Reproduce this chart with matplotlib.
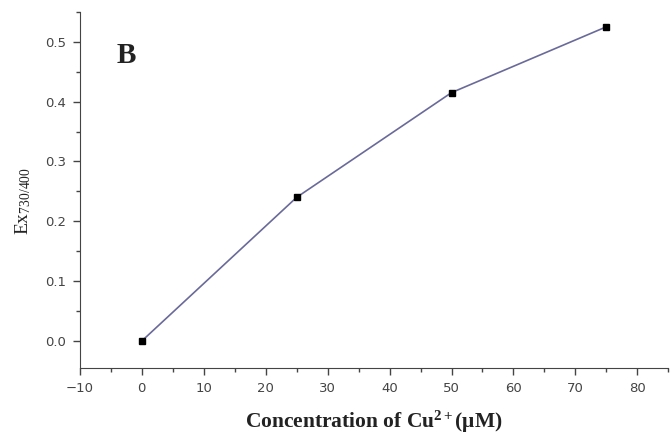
import matplotlib
matplotlib.use("Agg")
import matplotlib.pyplot as plt
from matplotlib.ticker import MultipleLocator

plt.rcParams["mathtext.fontset"] = "custom"
plt.rcParams["mathtext.rm"] = "Liberation Serif"
plt.rcParams["mathtext.it"] = "Liberation Serif:italic"
plt.rcParams["mathtext.bf"] = "Liberation Serif:bold"

conc = [0, 25, 50, 75]
ex = [0.0, 0.24, 0.415, 0.525]
xticks = [-10, 0, 10, 20, 30, 40, 50, 60, 70, 80]
yticks = [0.0, 0.1, 0.2, 0.3, 0.4, 0.5]

fig = plt.figure(figsize=(6.71, 4.38), dpi=100)
ax = fig.add_axes([0.119, 0.160, 0.877, 0.813])
ax.plot(conc, ex, color="#6a6a9a", lw=1.2, marker="s", ms=5,
        mfc="black", mec="black")
ax.set_xlim(-10, 85)
ax.set_ylim(-0.045, 0.55)
ax.set_xticks(xticks)
ax.set_yticks(yticks)
ax.set_yticklabels([f"{v:.1f}" for v in yticks])
ax.xaxis.set_minor_locator(MultipleLocator(5))
ax.yaxis.set_minor_locator(MultipleLocator(0.05))
for s in ["top", "right"]:
    ax.spines[s].set_visible(False)
for s in ["left", "bottom"]:
    ax.spines[s].set_color("#444444")
ax.tick_params(direction="out", length=5, width=1, colors="#444444",
               labelsize=9.5, labelcolor="#444444", pad=5)
ax.tick_params(which="minor", direction="out", length=3, width=1, colors="#444444")
for lab in ax.get_xticklabels() + ax.get_yticklabels():
    lab.set_family("DejaVu Sans")
ax.set_xlabel(r"Concentration of Cu$^{\mathbf{2+}}$($\mathbf{\mu}$M)",
              family="Liberation Serif", fontweight="bold", fontsize=15.5, labelpad=10,
              color="#222222")
ax.set_ylabel(r"Ex$_{\mathrm{730/400}}$", family="Liberation Serif", fontsize=14,
              color="#222222")
ax.yaxis.set_label_coords(-0.08, 0.47)
ax.text(-4.0, 0.465, "B", family="Liberation Serif", fontweight="bold", fontsize=21,
        color="#222222")
fig.savefig("out.png", dpi=100)
